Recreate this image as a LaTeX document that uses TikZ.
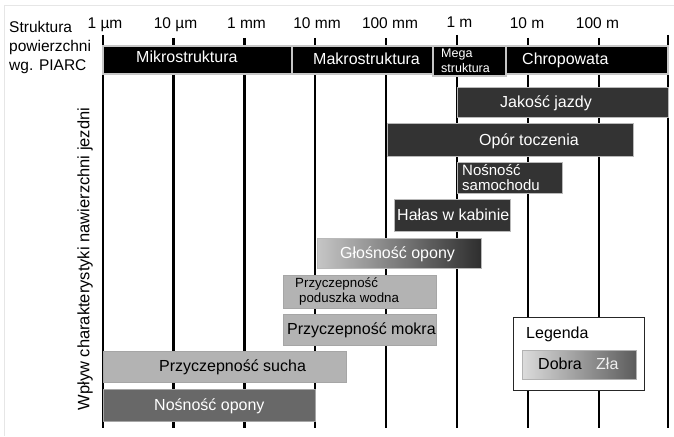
\documentclass[tikz,border=0pt]{standalone}
\usepackage{fontspec}
\setmainfont{Liberation Sans}
\newcommand\myfs[1]{\fontsize{#1}{#1}\selectfont}
\definecolor{dk}{HTML}{333333}
\definecolor{lt}{HTML}{B3B3B3}
\definecolor{md}{HTML}{686868}
\definecolor{gleft}{HTML}{C6C6C6}
\definecolor{gright}{HTML}{2E2E2E}
\definecolor{lleft}{HTML}{DCDCDC}
\definecolor{lright}{HTML}{5C5C5C}
\definecolor{frame}{HTML}{E6E6E6}
\definecolor{zla}{HTML}{EEEEEE}
\begin{document}
\begin{tikzpicture}[x=1pt,y=-1pt,
  box/.style={anchor=north west, inner sep=0pt, outer sep=0pt},
  hdr/.style={box, fill=black, draw=gray!45, line width=1.2pt},
  dark/.style={box, fill=dk, draw=gray!55, line width=0.6pt},
  light/.style={box, fill=lt, draw=gray!70, line width=0.6pt},
  txt/.style={anchor=base west, inner sep=0pt, font=\myfs{16}},
  wtxt/.style={txt, text=white},
  tick/.style={anchor=base, inner sep=0pt, font=\myfs{15.5}},
  axisline/.style={line width=2.2pt, black},
]
\useasboundingbox (0,0) rectangle (674,436);
\draw[frame, line width=0.8pt] (674,5) -- (4,5) -- (4,436);

% axis lines
\foreach \n/\x/\t in {a/103/35, b/173.5/38, c/244.5/38, d/315/38, e/386/38, f/457/35, g/528/38, h/599/38, i/668/35}{
  \coordinate (\n top) at (\x,\t);
  \coordinate (\n bot) at (\x,428);
  \draw[axisline] (\n top) -- (\n bot);
}

% scale labels
\node[tick] (l1) at (105,29) {1 µm};
\node[tick] (l2) at (175.5,29) {10 µm};
\node[tick] (l3) at (246.5,29) {1 mm};
\node[tick] (l4) at (317,29) {10 mm};
\node[tick] (l5) at (390,29) {100 mm};
\node[tick] (l6) at (459.5,27.5) {1 m};
\node[tick] (l7) at (527,29) {10 m};
\node[tick] (l8) at (597.5,29) {100 m};

% left title
\node[txt, font=\myfs{15.5}] (s1) at (9,33) {Struktura};
\node[txt, font=\myfs{15.5}] (s2) at (9,52) {powierzchni};
\node[txt, font=\myfs{15.5}] (s3) at (9,70.5) {wg. PIARC};

% header bars
\node[hdr, minimum width=189pt, minimum height=28pt] (mikro) at (103,46) {};
\node[hdr, minimum width=141pt, minimum height=28pt] (makro) at (292,46) {};
\node[hdr, minimum width=73pt, minimum height=30pt] (mega) at (433,46) {};
\node[hdr, minimum width=162pt, minimum height=28pt] (chrop) at (506,46) {};
\node[wtxt] (tmikro) at (136,63) {Mikrostruktura};
\node[wtxt] (tmakro) at (313,64) {Makrostruktura};
\node[wtxt, font=\myfs{12.5}] (tmega1) at (441,57) {Mega};
\node[wtxt, font=\myfs{12.5}] (tmega2) at (441,72) {struktura};
\node[wtxt] (tchrop) at (522,64) {Chropowata};

% side label
\node[rotate=90, inner sep=0pt, font=\myfs{16.5}] (side) at (85,259) {Wpływ charakterystyki nawierzchni jezdni};

% dark bars
\node[dark, minimum width=211pt, minimum height=30pt] (jak) at (457,87) {};
\node[wtxt] (tjak) at (500,107) {Jakość jazdy};
\node[dark, minimum width=246pt, minimum height=33pt] (opor) at (387,123) {};
\node[wtxt] (topor) at (479,145) {Opór toczenia};
\node[dark, minimum width=105pt, minimum height=31pt] (samo) at (457,162) {};
\node[wtxt, font=\myfs{15}] (tsamo1) at (462,175.5) {Nośność};
\node[wtxt, font=\myfs{15}] (tsamo2) at (462,190) {samochodu};
\node[dark, minimum width=116pt, minimum height=32pt] (halas) at (394,199) {};
\node[wtxt] (thalas) at (397,220) {Hałas w kabinie};

% gradient bar
\node[box, left color=gleft, right color=gright, draw=gray!55, line width=0.6pt, minimum width=164pt, minimum height=30pt] (glos) at (317,238) {};
\node[wtxt] (tglos) at (340,258) {Głośność opony};

% light bars
\node[light, minimum width=153pt, minimum height=33pt] (podu) at (283,275) {};
\node[txt, font=\myfs{13.3}] (tpodu1) at (295,287) {Przyczepność};
\node[txt, font=\myfs{13.3}] (tpodu2) at (299,302) {poduszka wodna};
\node[light, minimum width=153pt, minimum height=31pt] (mokra) at (283,314) {};
\node[txt] (tmokra) at (287,334) {Przyczepność mokra};
\node[light, minimum width=243pt, minimum height=31pt] (sucha) at (103,351) {};
\node[txt] (tsucha) at (159,371) {Przyczepność sucha};
\node[box, fill=md, draw=gray!70, line width=0.6pt, minimum width=212pt, minimum height=32pt] (nosop) at (103,389) {};
\node[wtxt] (tnosop) at (154,410.5) {Nośność opony};

% legend
\node[box, fill=white, draw=black!85, line width=1pt, minimum width=131pt, minimum height=73pt] (leg) at (513,317) {};
\node[txt] (tleg) at (526,338) {Legenda};
\node[box, left color=lleft, right color=lright, draw=gray!60, line width=0.6pt, minimum width=114pt, minimum height=29pt] (legbar) at (522,350) {};
\node[txt] (tdobra) at (538,369.5) {Dobra};
\node[txt, text=zla] (tzla) at (596,369.5) {Zła};
\end{tikzpicture}
\end{document}
